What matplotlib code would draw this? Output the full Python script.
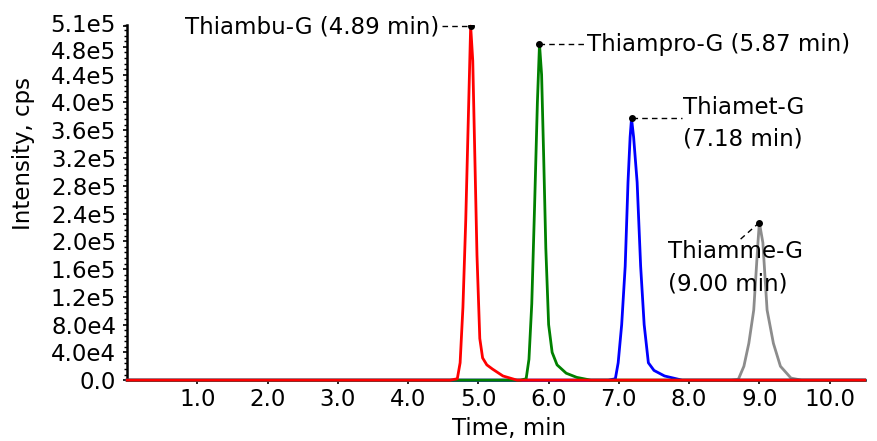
import matplotlib.pyplot as plt
from matplotlib.ticker import MultipleLocator
from matplotlib.transforms import ScaledTranslation

plt.rcParams['font.family'] = ['DejaVu Sans']

# Extracted ion chromatograms: retention time (min) and intensity (cps)
t_ambu = [0.0, 4.60, 4.70, 4.74, 4.78, 4.82, 4.86, 4.89, 4.92, 4.95, 4.98,
          5.02, 5.06, 5.12, 5.20, 5.35, 5.55, 10.5]
i_ambu = [0, 0, 2e3, 2.5e4, 1.05e5, 2.30e5, 3.9e5, 5.10e5, 4.6e5, 3.2e5,
          1.8e5, 6.0e4, 3.2e4, 2.2e4, 1.6e4, 6e3, 0, 0]

t_ampro = [0.0, 5.60, 5.68, 5.72, 5.76, 5.80, 5.84, 5.87, 5.90, 5.93, 5.96,
           6.00, 6.05, 6.12, 6.25, 6.40, 6.60, 10.5]
i_ampro = [0, 0, 2e3, 3.0e4, 1.1e5, 2.5e5, 4.0e5, 4.84e5, 4.4e5, 3.2e5,
           1.9e5, 8.0e4, 4.0e4, 2.2e4, 1.0e4, 4e3, 0, 0]

t_amet = [0.0, 6.85, 6.95, 6.99, 7.04, 7.09, 7.13, 7.16, 7.18, 7.21, 7.26,
          7.31, 7.36, 7.42, 7.50, 7.65, 7.90, 10.5]
i_amet = [0, 0, 2e3, 2.5e4, 8.0e4, 1.64e5, 2.85e5, 3.5e5, 3.77e5, 3.5e5,
          2.85e5, 1.64e5, 8.0e4, 2.5e4, 1.4e4, 6e3, 0, 0]

t_amme = [0.0, 8.60, 8.70, 8.78, 8.85, 8.92, 8.98, 9.00, 9.05, 9.11, 9.20,
          9.30, 9.45, 9.60, 10.5]
i_amme = [0, 0, 1e3, 2.0e4, 5.3e4, 1.01e5, 1.98e5, 2.27e5, 1.98e5, 1.01e5,
          5.3e4, 2.0e4, 3e3, 0, 0]

# apex of each peak: (time, intensity, label)
apex = [(4.89, 5.10e5, 'Thiambu-G (4.89 min)'),
        (5.87, 4.84e5, 'Thiampro-G (5.87 min)'),
        (7.18, 3.77e5, 'Thiamet-G\n(7.18 min)'),
        (9.00, 2.27e5, 'Thiamme-G\n(9.00 min)')]

y_ticks = [0, 4e4, 8e4, 1.2e5, 1.6e5, 2.0e5, 2.4e5, 2.8e5, 3.2e5, 3.6e5,
           4.0e5, 4.4e5, 4.8e5, 5.1e5]
y_labels = ['0.0', '4.0e4', '8.0e4', '1.2e5', '1.6e5', '2.0e5', '2.4e5',
            '2.8e5', '3.2e5', '3.6e5', '4.0e5', '4.4e5', '4.8e5', '5.1e5']
x_ticks = [1, 2, 3, 4, 5, 6, 7, 8, 9, 10]

FS = 16.5

fig = plt.figure(figsize=(8.77, 4.41), dpi=100)
ax = fig.add_axes([0.145, 0.138, 0.841, 0.806])

for t, i, c in [(t_amme, i_amme, '#8c8c8c'), (t_amet, i_amet, '#0000ff'),
                (t_ampro, i_ampro, '#008000'), (t_ambu, i_ambu, '#ff0000')]:
    ax.plot(t, i, color=c, lw=2, zorder=3, clip_on=False)

ax.set_xlim(0, 10.5)
ax.set_ylim(0, 5.12e5)

for s in ['top', 'right']:
    ax.spines[s].set_visible(False)
for s in ['left', 'bottom']:
    ax.spines[s].set_linewidth(1.8)

ax.set_yticks(y_ticks)
ax.set_yticklabels(y_labels)
ax.yaxis.set_minor_locator(MultipleLocator(8e3))
ax.set_xticks(x_ticks)
ax.set_xticklabels([f'{v:.1f}' for v in x_ticks])
ax.tick_params(axis='both', labelsize=FS, length=3, width=1.2)
ax.tick_params(axis='x', pad=3)
ax.tick_params(axis='y', pad=5)
ax.tick_params(axis='y', which='minor', length=2, width=1)

# the crowded top labels are pushed slightly apart
tl = ax.get_yticklabels()
tl[-1].set_transform(tl[-1].get_transform() + ScaledTranslation(0, 2 / 72, fig.dpi_scale_trans))
tl[-2].set_transform(tl[-2].get_transform() + ScaledTranslation(0, -2 / 72, fig.dpi_scale_trans))

ax.set_xlabel('Time, min', fontsize=FS)
ax.xaxis.set_label_coords(0.518, -0.104)
ax.set_ylabel('Intensity, cps', fontsize=FS)
ax.yaxis.set_label_coords(-0.141, 0.639)
ax.yaxis.label.set_va('center')

# peak markers and dashed leaders
for t, h, _ in apex:
    ax.plot(t, h, 'o', color='black', ms=4, zorder=5)

lead = dict(color='black', lw=1, ls=(0, (4, 3)))
ax.plot([4.48, 4.89], [5.10e5, 5.10e5], **lead)
ax.text(4.45, 5.08e5, apex[0][2], fontsize=FS, ha='right', va='center')

ax.plot([5.87, 6.51], [4.84e5, 4.84e5], **lead)
ax.text(6.54, 4.84e5, apex[1][2], fontsize=FS, ha='left', va='center')

ax.plot([7.18, 7.90], [3.77e5, 3.77e5], **lead)
ax.text(7.91, 3.70e5, apex[2][2], fontsize=FS, ha='left', va='center',
        linespacing=1.48)

ax.plot([9.00, 8.72], [2.27e5, 2.02e5], **lead)
ax.text(7.70, 1.62e5, apex[3][2], fontsize=FS, ha='left', va='center',
        linespacing=1.55)

fig.savefig('out.png', dpi=100)
